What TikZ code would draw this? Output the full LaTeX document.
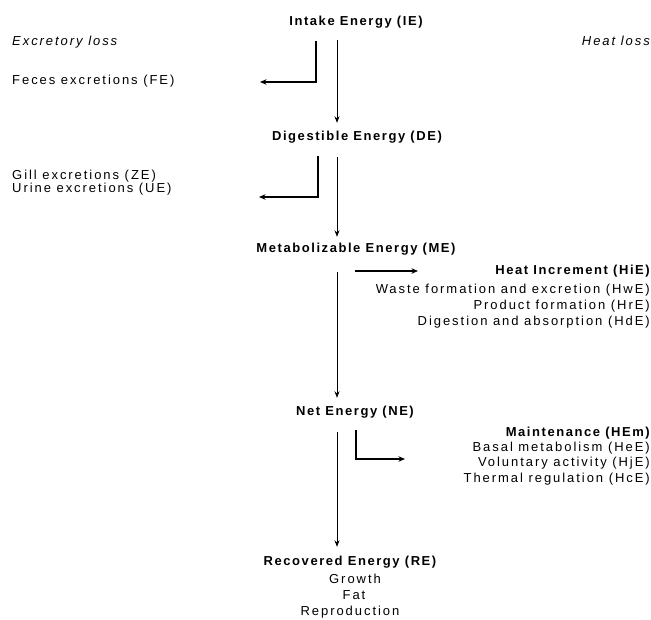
\documentclass[tikz,border=0pt]{standalone}
\usepackage{fontspec}
\setmainfont{Liberation Sans}[LetterSpace=15, BoldFeatures={LetterSpace=12}]
\usetikzlibrary{arrows.meta}
\begin{document}
\begin{tikzpicture}[x=1pt,y=-1pt,
  every node/.style={inner sep=0pt, text height=9pt, text depth=3pt, font=\fontsize{13}{15}\selectfont},
  title/.style={font=\fontsize{13}{15}\selectfont\bfseries},
  hdr/.style={font=\fontsize{13}{15}\selectfont\itshape},
  flow/.style={line width=0.8pt, -{Stealth[length=6.5pt,width=5pt]}},
  loss/.style={line width=1.4pt, -{Stealth[length=6.5pt,width=5.5pt]}},
]
\useasboundingbox (0,0) rectangle (651,620);
% headers
\node[hdr, anchor=west] (xl) at (12,43) {Excretory loss};
\node[hdr, anchor=east] (hl) at (650,43) {Heat loss};
% main energy nodes
\node[title] (IE) at (356,23) {Intake Energy (IE)};
\node[title] (DE) at (357,138) {Digestible Energy (DE)};
\node[title] (ME) at (356,250) {Metabolizable Energy (ME)};
\node[title] (NE) at (355,412) {Net Energy (NE)};
\node[title] (RE) at (350,562) {Recovered Energy (RE)};
\node (gr) at (355,580) {Growth};
\node (fat) at (354,596) {Fat};
\node (rep) at (350,612) {Reproduction};
% excretory losses
\node[anchor=west] (FE) at (12,82) {Feces excretions (FE)};
\node[anchor=west] (ZE) at (12,177) {Gill excretions (ZE)};
\node[anchor=west] (UE) at (12,190) {Urine excretions (UE)};
% heat losses
\node[title, anchor=east] (HiE) at (650,272) {Heat Increment (HiE)};
\node[anchor=east] (HwE) at (650,291) {Waste formation and excretion (HwE)};
\node[anchor=east] (HrE) at (650,307) {Product formation (HrE)};
\node[anchor=east] (HdE) at (650,323) {Digestion and absorption (HdE)};
\node[title, anchor=east] (HEm) at (650,433) {Maintenance (HEm)};
\node[anchor=east] (HeE) at (650,448) {Basal metabolism (HeE)};
\node[anchor=east] (HjE) at (650,463) {Voluntary activity (HjE)};
\node[anchor=east] (HcE) at (650,479) {Thermal regulation (HcE)};
% main flow
\coordinate (ax) at (337,0);
\draw[flow, shorten <=11pt, shorten >=9pt] (IE.south -| ax) -- (DE.north -| ax);
\draw[flow, shorten <=13pt, shorten >=7pt] (DE.south -| ax) -- (ME.north -| ax);
\draw[flow, shorten <=16pt, shorten >=8pt] (ME.south -| ax) -- (NE.north -| ax);
\draw[flow, shorten <=14pt, shorten >=9pt] (NE.south -| ax) -- (RE.north -| ax);
% loss branches
\coordinate (l1s) at (316,41);
\coordinate (l1e) at (260,82);
\draw[loss] (l1s) |- (l1e);
\coordinate (l2s) at (318,156);
\coordinate (l2e) at (259,197);
\draw[loss] (l2s) |- (l2e);
\coordinate (l3s) at (355,271);
\coordinate (l3e) at (418,271);
\draw[loss] (l3s) -- (l3e);
\coordinate (l4s) at (356,430);
\coordinate (l4e) at (405,459);
\draw[loss] (l4s) |- (l4e);
\end{tikzpicture}
\end{document}
